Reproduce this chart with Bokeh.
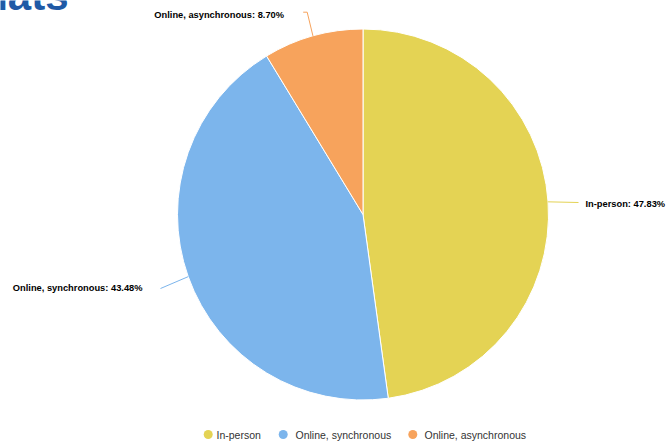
import math
from bokeh.plotting import figure
from bokeh.models import Range1d, Label
from bokeh.embed import file_html
from bokeh.resources import INLINE
from bokeh.core.properties import value

# ---- data ----
categories = ["In-person", "Online, synchronous", "Online, asynchronous"]
shares = [47.83, 43.48, 8.70]
colors = ["#e4d354", "#7cb5ec", "#f7a35c"]
title_text = "Formats"

# ---- layout (pixel based) ----
W, H = 666, 441
FONT = "Liberation Sans"


def px(X):
    return X


def py(Y):
    return H - Y


CX, CY, R = px(362.5), py(214), 185.5

p = figure(width=W, height=H, x_range=Range1d(0, W), y_range=Range1d(0, H),
           output_backend="svg", toolbar_location=None, min_border=0,
           outline_line_color=None, background_fill_color="white",
           border_fill_color="white")
p.axis.visible = False
p.grid.visible = False

# wedges, clockwise from 12 o'clock
total = sum(shares)
starts, ends, mids = [], [], []
cum = 0.0
for s in shares:
    a0 = math.pi / 2 - 2 * math.pi * cum / total
    a1 = a0 - 2 * math.pi * s / total
    starts.append(a0)
    ends.append(a1)
    mids.append((a0 + a1) / 2)
    cum += s

p.wedge(x=[CX] * len(shares), y=[CY] * len(shares), radius=R,
        start_angle=starts, end_angle=ends, direction="clock",
        fill_color=colors, line_color="white", line_width=1)

# data labels with connectors (layout: connector bends and label anchors, page px)
bends = [[(578, 202)], [(160, 288)], [(306.7, 11.7), (302.7, 11.7)]]
anchors = [(585, 203, "left"), (142, 287.5, "right"), (283.5, 14.5, "right")]
for i, c in enumerate(categories):
    ex = CX + R * math.cos(mids[i])
    ey = CY + R * math.sin(mids[i])
    xs = [ex] + [px(b[0]) for b in bends[i]]
    ys = [ey] + [py(b[1]) for b in bends[i]]
    p.line(xs, ys, line_color=colors[i], line_width=1)
    ax, ay, al = anchors[i]
    p.add_layout(Label(x=px(ax), y=py(ay), text=f"{c}: {shares[i]:.2f}%",
                       text_align=al, text_baseline="middle",
                       text_font=FONT, text_font_style="bold",
                       text_font_size="9.3px", text_color="#000000"))

# legend
leg_cx = [207.7, 282.7, 412.3]
leg_tx = [216, 295, 424]
leg_y = 434
p.scatter(x=[px(v) for v in leg_cx], y=[py(leg_y)] * 3, size=9,
          marker="circle", fill_color=colors, line_color=None)
p.text(x=[px(v) for v in leg_tx], y=[py(leg_y)] * 3, text=categories,
       text_align="left", text_baseline="middle", text_font=value(FONT),
       text_font_size="10.5px", text_color="#333333")

# clipped title
p.add_layout(Label(x=px(68), y=py(-5), text=title_text, text_align="right",
                   text_baseline="alphabetic", text_font=FONT,
                   text_font_style="bold", text_font_size="42px",
                   text_color="#1f5aa6"))

open("out.html", "w").write(file_html(p, INLINE))
